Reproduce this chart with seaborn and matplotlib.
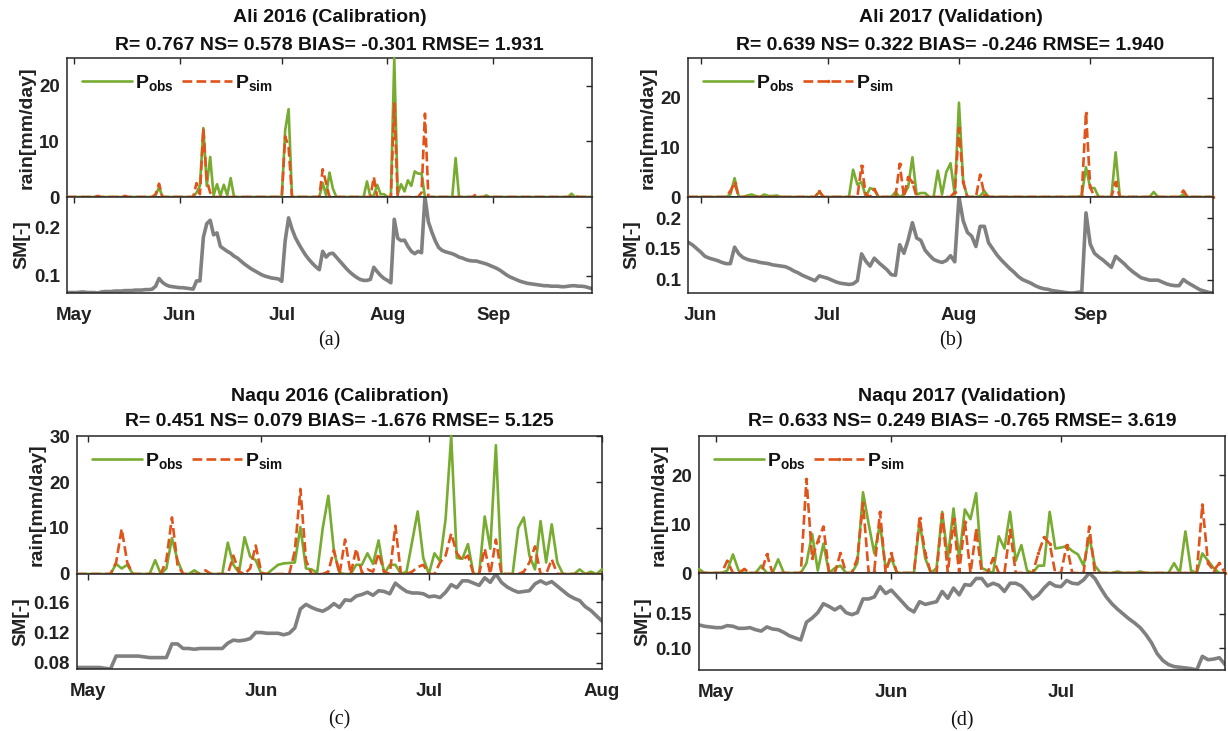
import numpy as np
import pandas as pd
import matplotlib
matplotlib.use("Agg")
import matplotlib.pyplot as plt
import matplotlib.dates as mdates
from matplotlib.ticker import FixedLocator, FormatStrFormatter
import seaborn as sns

# ---------------- data ----------------
# Panel (a): Ali 2016, daily from 2016-04-29
a_start = "2016-04-29"
a_obs = [0,0,0,0,0,0,0,0,0,0, 0,0,0,0,0,0,0,0,0,0, 0,0,0,0,0,0,0.3,1.8,0,0,
         0,0,0,0,0,0,0,0,0.8,2.0, 12.4,2.0,7.2,0.3,2.3,0.2,2.2,0.3,3.4,0, 0,0,0,0,0,0,0,0,0,0,
         0,0,0,0,12.0,15.8,0,0,0,0, 0,0,0,0,0,2.5,0.3,4.4,1.5,0, 0,0,0,0,0,0,0,0,2.8,0,
         0.3,2.2,0.5,0.5,0,0,25.0,0.5,2.3,1.0, 3.0,2.0,4.6,4.2,4.2,0,0,0,0,0, 0,0,0,0,7.0,0,0,0,0,0,
         0,0,0,0.3,0,0,0,0,0,0, 0,0,0,0,0,0,0,0,0,0, 0,0,0,0,0,0,0,0,0.6,0, 0,0,0,0,0]
a_sim = [0,0,0,0,0,0,0,0,0,0.2, 0,0,0,0,0,0,0,0.2,0,0, 0,0,0,0,0,0,0.5,2.4,0,0,
         0,0,0,0,0,0,0,0,2.5,0.5, 12.3,3.0,0.8,0,0,0,0,0,0,0, 0,0,0,0,0,0,0,0,0,0,
         0,0,0,0,10.9,9.0,0,0,0,0, 0,0,0,0,0,5.0,2.5,0,0,0, 0,0,0,0,0,0,0,0,0,0,
         3.6,0,0,0,0,0,16.8,0,0,0, 0,0,0,0,0.8,15.0,0,0,0,0, 0,0,0,0,0,0,0,0,0,0,
         0.5,0,0,0,0,0,0,0,0,0, 0,0,0,0,0,0,0,0,0,0, 0,0,0,0,0,0,0,0,0,0.3, 0,0,0,0,0]
a_sm = [.065,.065,.065,.065,.066,.066,.065,.065,.065,.064, .066,.067,.067,.067,.068,.068,.068,.069,.069,.069,
        .070,.070,.070,.071,.071,.072,.078,.094,.086,.081, .078,.077,.076,.075,.075,.074,.073,.072,.089,.089,
        .179,.207,.214,.184,.188,.160,.155,.150,.146,.140, .136,.130,.124,.119,.114,.110,.106,.102,.099,.097,
        .095,.094,.093,.088,.172,.219,.196,.178,.165,.153, .142,.133,.125,.118,.112,.150,.138,.145,.146,.138,
        .130,.122,.114,.107,.101,.096,.092,.090,.090,.092, .117,.108,.100,.094,.090,.085,.216,.177,.172,.173,
        .160,.150,.145,.150,.147,.262,.211,.190,.172,.158, .152,.149,.147,.145,.142,.138,.136,.133,.131,.130,
        .130,.128,.126,.124,.121,.118,.115,.111,.106,.101, .097,.094,.091,.088,.086,.084,.083,.082,.081,.080,
        .079,.079,.078,.078,.078,.077,.077,.078,.079,.079, .078,.078,.077,.075,.073]

# Panel (b): Ali 2017, daily from 2017-05-29
b_start = "2017-05-29"
b_obs = [0,0,0,0,0,0,0,0,0,0, 0.5,3.8,0,0,0.3,0.5,0.2,0,0.5,0.2, 0.2,0.3,0,0,0,0,0,0,0,0,
         0,1.0,0,0,0,0,0,0,0,5.5, 2.5,3.0,0,1.8,1.5,0,0,0,0,1.0, 0,0.5,2.0,8.0,0.5,0.8,0.8,0,0,5.3,
         0.5,5.0,6.8,0.5,19.0,3.0,0,0,0,0.2, 1.2,0,0,0,0,0,0,0,0,0, 0,0,0,0,0,0,0,0,0,0,
         0,0,0,0.3,6.0,1.8,1.8,0,0,0, 0,9.0,0,0,0,0,0,0,0,0, 1.0,0,0,0,0,0,0,0.5,0,0, 0,0,0,0,0]
b_sim = [0,0,0,0,0,0,0,0,0,0, 1.2,2.8,0,0,0,0,0,0,0,0, 0,0,0,0,0,0,0,0,0,0,
         0,1.2,0,0,0,0,0,0,0,0, 0,6.3,0.5,0,1.6,0,0,0,0,0, 6.7,0,4.0,3.0,0,0,0,0,0,0,
         0,0,0,1.0,13.8,3.0,0,0,0,4.5, 0.5,0,0,0,0,0,0,0,0,0, 0,0,0,0,0,0,0,0,0,0,
         0,0,0,0.3,17.0,2.0,0,0,0,0, 0,3.0,0,0,0,0,0,0,0,0, 0,0,0,0,0,0,0,1.3,0,0, 0,0,0,0,0]
b_sm = [.161,.157,.151,.145,.138,.135,.133,.131,.128,.126, .126,.153,.142,.136,.133,.131,.130,.128,.127,.126,
        .124,.123,.122,.121,.118,.114,.111,.107,.104,.101, .098,.106,.104,.102,.099,.096,.094,.093,.092,.093,
        .098,.142,.130,.122,.135,.128,.122,.116,.108,.107, .157,.143,.165,.193,.168,.164,.148,.140,.133,.130,
        .128,.131,.139,.129,.235,.196,.177,.171,.154,.187, .187,.160,.150,.140,.132,.125,.118,.112,.105,.100,
        .097,.094,.090,.087,.085,.084,.082,.081,.080,.079, .078,.078,.079,.080,.209,.158,.143,.137,.132,.126,
        .120,.138,.132,.126,.119,.113,.108,.103,.101,.099, .099,.099,.096,.093,.091,.090,.090,.100,.095,.091,
        .087,.083,.081,.079,.078]

# Panel (c): Naqu 2016, daily from 2016-04-29
c_start = "2016-04-29"
c_obs = [0,0,0,0,0,0,0,2.2,1.2,2.0, 0,0,0,0,3.0,0,1.2,7.8,3.0,0, 0,0.8,0,0,0,0,0,6.8,2.0,0.3,
         8.0,3.8,3.0,0,0,1.0,2.0,2.3,2.4,2.5, 10.2,1.2,1.0,0.3,10.0,17.0,5.0,0.2,0,0,
         2.0,2.0,4.5,2.2,7.3,0,2.0,2.0,0,0.5, 7.0,13.6,3.5,0,4.5,2.8,12.0,30.0,3.5,3.3,
         6.5,0,0,12.5,5.5,28.0,0,0,0,10.0, 12.3,4.0,1.0,11.5,2.5,10.8,2.5,0,0,0, 1.0,0,0.5,0,1.0]
c_sim = [0,0,0,0,0,0,0,2.5,9.8,2.5, 0,0,0,0,0,0,3.0,12.3,2.0,0, 0,0,0,0.8,0,0,0,0,4.0,0.5,
         0,1.2,6.2,0.3,0,0,0,0,0,5.0, 18.5,3.0,0,0,0,0.5,5.2,0,7.5,0,
         5.5,0.3,1.0,0.5,4.5,0.5,0,10.5,0,0, 0.5,1.5,2.0,0,0,2.5,4.0,8.8,4.5,3.0,
         4.0,0,0,5.5,0,7.5,0,0,0,0, 0.5,2.5,6.0,0,0,3.2,0,0,0,0, 0,0,0,0,0]
c_sm = [.074,.074,.074,.074,.074,.073,.072,.089,.089,.089, .089,.089,.088,.087,.087,.087,.087,.105,.105,.099,
        .099,.098,.099,.099,.099,.099,.099,.106,.110,.109, .110,.112,.120,.120,.119,.119,.119,.117,.119,.126,
        .151,.157,.153,.150,.148,.152,.158,.153,.163,.162, .168,.170,.173,.169,.175,.174,.171,.185,.179,.174,
        .172,.172,.171,.167,.168,.166,.173,.183,.179,.188, .188,.185,.182,.192,.186,.197,.186,.180,.176,.173,
        .174,.175,.184,.188,.184,.187,.181,.175,.169,.165, .162,.154,.149,.142,.135]

# Panel (d): Naqu 2017, daily from 2017-04-28
d_start = "2017-04-28"
d_obs = [0.8,0,0,0,0,0.5,3.8,0.5,0,0, 0,1.5,0,0,2.8,0,0,0,0,2.0, 8.0,0.5,6.0,0,1.0,1.5,0,0,2.0,16.5,
         10.0,4.0,10.0,1.0,3.0,0,0,0,0,10.5, 3.0,0,1.0,12.5,3.0,13.2,3.0,13.0,11.0,16.3,
         1.0,0.5,0,7.5,5.0,12.5,2.5,5.7,0.5,0, 1.5,1.5,12.5,5.0,5.2,5.5,4.5,3.8,1.5,7.5,
         1.5,0,0,0,0.3,0,0,0,0.3,0, 0,0,0,0,2.0,0,8.5,0.5,0,4.0, 2.5,1.0,0,0]
d_sim = [0,0,0,0,0,2.5,0,0,0.8,0, 0,0,3.8,0,0,0,0,0,0,19.2, 3.0,6.5,9.5,0,0,4.0,0,0,3.0,14.3,
         0,0.5,12.5,0,4.0,0,0,0,0,11.3, 4.0,0,0,12.0,0,11.0,0,10.5,0,8.8,
         0,0,3.0,0,0,8.8,0,0,0,0, 4.0,7.3,6.0,0,0,5.7,0,0,0,9.5,
         0,0,0,0,0,0,0,0,0,0, 0,0,0,0,0,0,0,0,0,14.0, 2.0,0.5,2.0,0]
d_sm = [.134,.132,.131,.130,.130,.133,.132,.129,.129,.130, .127,.125,.131,.128,.127,.123,.118,.115,.112,.138,
        .144,.152,.165,.161,.156,.161,.152,.149,.152,.172, .172,.175,.190,.180,.185,.176,.167,.158,.153,.168,
        .164,.166,.168,.183,.173,.188,.178,.193,.192,.202, .202,.191,.195,.192,.183,.195,.195,.191,.182,.172,
        .178,.188,.196,.191,.190,.199,.195,.194,.200,.210, .202,.188,.175,.165,.157,.150,.143,.137,.130,.120,
        .108,.092,.082,.076,.073,.072,.071,.070,.068,.088, .083,.084,.086,.076]

titles = ["Ali 2016 (Calibration)", "Ali 2017 (Validation)",
          "Naqu 2016 (Calibration)", "Naqu 2017 (Validation)"]
stats = ["R= 0.767 NS= 0.578 BIAS= -0.301 RMSE= 1.931",
         "R= 0.639 NS= 0.322 BIAS= -0.246 RMSE= 1.940",
         "R= 0.451 NS= 0.079 BIAS= -1.676 RMSE= 5.125",
         "R= 0.633 NS= 0.249 BIAS= -0.765 RMSE= 3.619"]
captions = ["(a)", "(b)", "(c)", "(d)"]
rain_max = [25, 28, 30, 28]
rain_ticks = [[0, 10, 20], [0, 10, 20], [0, 10, 20, 30], [0, 10, 20]]
sm_ticks = [[0.1, 0.2], [0.1, 0.15, 0.2], [0.08, 0.12, 0.16], [0.10, 0.15]]
sm_fmt = ["%.1f", "%g", "%.2f", "%.2f"]
sim_dotted = [False, True, False, True]

# ---------------- style ----------------
sns.set_theme(style="white")
plt.rcParams["font.family"] = ["Liberation Sans", "DejaVu Sans"]
plt.rcParams["font.weight"] = "bold"
plt.rcParams["mathtext.fontset"] = "custom"
plt.rcParams["mathtext.rm"] = "Liberation Sans:bold"
plt.rcParams["mathtext.bf"] = "Liberation Sans:bold"
plt.rcParams["mathtext.it"] = "Liberation Sans:bold"

GREEN = "#77AC30"
ORANGE = "#E0531A"
GRAY = "#808080"
FRAME = "#262626"

W, H = 1228, 731
fig = plt.figure(figsize=(W / 100, H / 100), dpi=100)


def rect(l, r, top, bot):
    return [l / W, 1 - bot / H, (r - l) / W, (bot - top) / H]

# pixel layout of each panel: left, right, rain top, split, sm bottom
layout = [(67, 592, 58, 197, 293), (688, 1213, 58, 197, 293),
          (77, 602, 436, 574, 669), (699, 1225, 436, 573, 670)]
title_y = [(18, 45), (18, 45), (396, 422), (396, 422)]
cap_y = [341, 341, 720, 721]

panels = [(a_start, a_obs, a_sim, a_sm), (b_start, b_obs, b_sim, b_sm),
          (c_start, c_obs, c_sim, c_sm), (d_start, d_obs, d_sim, d_sm)]


def style_axis(ax):
    for s in ax.spines.values():
        s.set_color(FRAME)
        s.set_linewidth(1.1)
    ax.tick_params(direction="in", top=True, right=True, length=4.5, width=1,
                   colors=FRAME, labelsize=13.5, labelcolor="#222222")
    for lab in ax.get_xticklabels() + ax.get_yticklabels():
        lab.set_fontweight("bold")


for k, (start, obs, sim, sm) in enumerate(panels):
    l, r, top, mid, bot = layout[k]
    dates = pd.date_range(start, periods=len(obs), freq="D")
    df = pd.DataFrame({"date": dates, "obs": obs, "sim": sim, "sm": sm})

    axr = fig.add_axes(rect(l, r, top, mid))
    axs = fig.add_axes(rect(l, r, mid, bot), sharex=axr)

    sns.lineplot(data=df, x="date", y="obs", ax=axr, color=GREEN, linewidth=1.9,
                 label=r"$\mathbf{P_{obs}}$", clip_on=False, zorder=5)
    kw = dict(marker=".", markersize=5, markeredgewidth=0) if sim_dotted[k] else {}
    sns.lineplot(data=df, x="date", y="sim", ax=axr, color=ORANGE, linewidth=1.9,
                 linestyle="--", label=r"$\mathbf{P_{sim}}$", clip_on=False, zorder=6, **kw)
    sns.lineplot(data=df, x="date", y="sm", ax=axs, color=GRAY, linewidth=2.6)

    axr.set_xlim(dates[0], dates[-1])
    axr.set_ylim(0, rain_max[k])
    axr.yaxis.set_major_locator(FixedLocator(rain_ticks[k]))
    axr.set_ylabel("rain[mm/day]", fontsize=14, fontweight="bold", color="#222222", labelpad=3)
    axr.set_xlabel("")
    axr.tick_params(labelbottom=False)

    axs.set_ylim(min(sm), max(sm))
    axs.yaxis.set_major_locator(FixedLocator(sm_ticks[k]))
    axs.yaxis.set_major_formatter(FormatStrFormatter(sm_fmt[k]))
    axs.xaxis.set_major_locator(mdates.MonthLocator())
    axs.xaxis.set_major_formatter(mdates.DateFormatter("%b"))
    axs.set_ylabel("SM[-]", fontsize=14, fontweight="bold", color="#222222", labelpad=3)
    axs.set_xlabel("")

    style_axis(axr)
    style_axis(axs)
    axs.tick_params(axis="x", pad=10)
    axr.tick_params(axis="y", pad=5)
    axs.tick_params(axis="y", pad=5)

    leg = axr.legend(loc="upper left", ncol=2, frameon=False, fontsize=14,
                     handlelength=2.6, handletextpad=0.15, columnspacing=0.4,
                     borderaxespad=0.35)
    for t in leg.get_texts():
        t.set_color("#111111")

    cx = (l + r) / 2 / W
    fig.text(cx, 1 - title_y[k][0] / H, titles[k], ha="center", va="center",
             fontsize=14, fontweight="bold", color="#111111")
    fig.text(cx, 1 - title_y[k][1] / H, stats[k], ha="center", va="center",
             fontsize=14, fontweight="bold", color="#111111")
    fig.text(cx, 1 - cap_y[k] / H, captions[k], ha="center", va="center",
             fontsize=14.5, fontweight="normal", family="Liberation Serif", color="#111111")

fig.savefig("out.png", dpi=100)
